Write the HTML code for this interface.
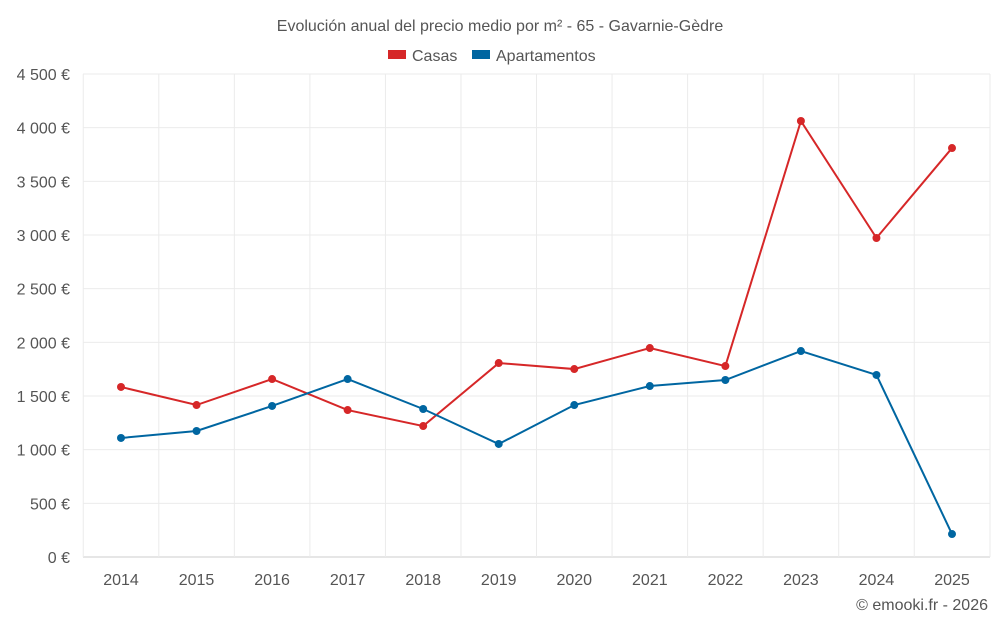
<!DOCTYPE html>
<html><head><meta charset="utf-8"><style>
body{margin:0;background:#fff;font-family:"Liberation Sans",sans-serif;}
svg text{font-family:"Liberation Sans",sans-serif;fill:#555;}
</style></head><body>
<svg id="chart" width="1000" height="625">
<text x="500" y="31" text-anchor="middle" font-size="16">Evolución anual del precio medio por m² - 65 - Gavarnie-Gèdre</text>
<g>
<g><rect x="388" y="50" width="18" height="9" fill="#d62728"/><text x="412" y="61" font-size="16">Casas</text></g>
<g><rect x="472" y="50" width="18" height="9" fill="#0066a1"/><text x="496" y="61" font-size="16">Apartamentos</text></g>
</g>
<g id="grid"></g><g id="axes"></g><g id="series"></g>
<text x="988" y="610" text-anchor="end" font-size="16">© emooki.fr - 2026</text>
</svg>
<script>
const years=[2014,2015,2016,2017,2018,2019,2020,2021,2022,2023,2024,2025];
const casas=[1584,1416,1658,1369,1220,1807,1751,1947,1779,4062,2972,3810];
const apartamentos=[1109,1174,1407,1658,1379,1053,1416,1593,1649,1919,1696,214];
const yTicks=[0,500,1000,1500,2000,2500,3000,3500,4000,4500];
const NS="http://www.w3.org/2000/svg";
const x0=83,x1=990,y0=557,y1=74;
const xs=i=>121+i*(952-121)/(years.length-1);
const ys=v=>y0-(v/4500)*(y0-y1);
function mk(t,a,p){const e=document.createElementNS(NS,t);for(const k in a)e.setAttribute(k,a[k]);p.appendChild(e);return e;}
const grid=document.getElementById('grid'),axes=document.getElementById('axes'),series=document.getElementById('series');
yTicks.forEach(v=>{
 const l=mk('line',{x1:x0,x2:x1,y1:ys(v),y2:ys(v),stroke:v===0?'#ccc':'#ebebeb'},grid);
 
 
 const t=mk('text',{x:70,y:ys(v)+6,'text-anchor':'end','font-size':16},axes);
 t.textContent=v.toLocaleString('fr-FR').replace(/\s/g,' ')+' €';
 
 
});
years.forEach((y,i)=>{
 const l=mk('line',{x1:xs(i)-37.75,x2:xs(i)-37.75,y1:y1,y2:y0,stroke:'#ebebeb'},grid);
 
 
 const t=mk('text',{x:xs(i),y:585,'text-anchor':'middle','font-size':16},axes);
 t.textContent=y;
 
 
});
mk('line',{x1:x1,x2:x1,y1:y1,y2:y0,stroke:'#ebebeb'},grid);
function draw(vals,color,name){
 const p=mk('polyline',{points:vals.map((v,i)=>xs(i)+','+ys(v)).join(' '),fill:'none',stroke:color,'stroke-width':2},series);
 
 
 vals.forEach((v,i)=>{
  const c=mk('circle',{cx:xs(i),cy:ys(v),r:4,fill:color},series);
  
  
 });
}
draw(casas,'#d62728','casas');
draw(apartamentos,'#0066a1','apartamentos');
</script>
</body></html>
